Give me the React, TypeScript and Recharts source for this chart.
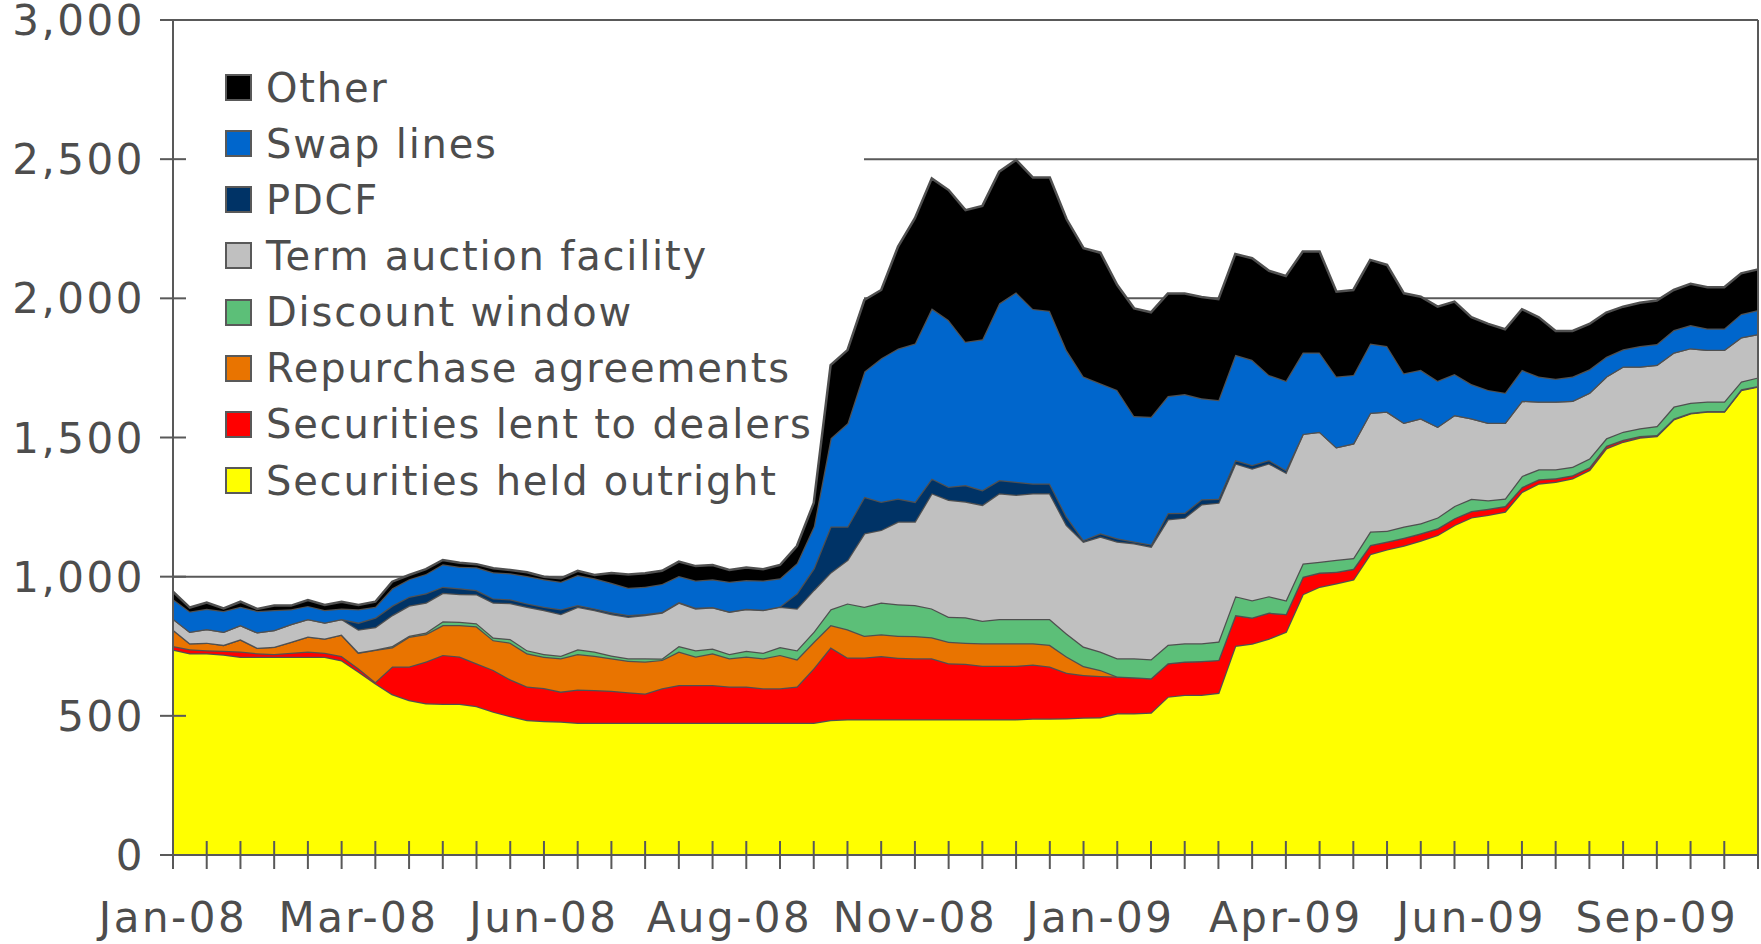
import { AreaChart, Area, XAxis, YAxis, CartesianGrid, ReferenceLine } from "recharts";

// weekly Wednesdays, Jan 2 2008 .. Oct 21 2009
const START = Date.UTC(2008, 0, 2);
const weeks: string[] = Array.from({ length: 95 }, (_, i) =>
  new Date(START + i * 7 * 86400000).toISOString().slice(0, 10)
);

const tickLabels = ["Jan-08", "Mar-08", "Jun-08", "Aug-08", "Nov-08", "Jan-09", "Apr-09", "Jun-09", "Sep-09"];
const yTicks = [0, 500, 1000, 1500, 2000, 2500, 3000];

// $bn
const outright = [
  738, 725, 725, 720, 712, 712, 712, 712, 712, 712,
  700, 659, 617, 578, 557, 545, 543, 543, 535, 515,
  499, 485, 481, 480, 475, 475, 475, 475, 475, 475,
  475, 475, 475, 475, 475, 475, 475, 475, 475, 485,
  488, 488, 488, 488, 488, 488, 488, 488, 488, 488,
  488, 490, 490, 491, 494, 495, 509, 509, 512, 569,
  576, 576, 583, 752, 760, 778, 802, 937, 964, 976,
  990, 1081, 1098, 1112, 1130, 1150, 1186, 1213, 1222, 1234,
  1305, 1335, 1341, 1353, 1383, 1461, 1485, 1500, 1505, 1565,
  1587, 1593, 1593, 1671, 1683,
];
const lent = [
  13, 14, 11, 14, 19, 13, 10, 15, 19, 15,
  15, 12, 5, 99, 120, 150, 176, 170, 154, 150,
  132, 120, 119, 107, 120, 118, 115, 110, 105, 124,
  136, 136, 136, 130, 130, 124, 124, 130, 196, 261,
  222, 222, 227, 221, 219, 219, 201, 199, 192, 192,
  192, 194, 187, 164, 153, 148, 132, 130, 123, 120,
  119, 121, 118, 110, 93, 93, 64, 63, 51, 42,
  38, 33, 28, 28, 26, 24, 24, 23, 22, 20,
  17, 15, 13, 11, 10, 9, 7, 5, 4, 3,
  2, 2, 2, 2, 2,
];
const repo = [
  59, 22, 27, 21, 44, 20, 26, 39, 54, 51,
  77, 56, 115, 69, 107, 99, 107, 113, 133, 107,
  132, 120, 112, 120, 127, 123, 117, 113, 115, 102,
  120, 102, 114, 102, 108, 108, 120, 98, 95, 80,
  101, 78, 78, 79, 80, 75, 77, 76, 81, 81,
  81, 77, 78, 58, 32, 22, 0, 0, 0, 0,
  0, 0, 0, 0, 0, 0, 0, 0, 0, 0,
  0, 0, 0, 0, 0, 0, 0, 0, 0, 0,
  0, 0, 0, 0, 0, 0, 0, 0, 0, 0,
  0, 0, 0, 0, 0,
];
const discount = [
  0, 0, 0, 0, 0, 0, 0, 0, 0, 0,
  0, 1, 1, 5, 4, 5, 14, 12, 11, 9,
  13, 11, 10, 9, 17, 15, 10, 9, 12, 5,
  20, 23, 17, 15, 21, 20, 28, 33, 36, 57,
  93, 104, 114, 113, 111, 104, 90, 91, 81, 87,
  87, 87, 93, 83, 70, 66, 66, 68, 68, 66,
  66, 64, 66, 68, 62, 59, 49, 47, 39, 43,
  39, 48, 39, 40, 36, 39, 44, 44, 31, 27,
  40, 36, 32, 31, 32, 27, 29, 28, 32, 43,
  36, 34, 34, 28, 31,
];
const taf = [
  40, 41, 49, 47, 51, 55, 60, 64, 63, 57,
  56, 82, 81, 111, 108, 108, 102, 100, 104, 126,
  129, 156, 158, 150, 153, 149, 149, 149, 155, 165,
  156, 150, 148, 152, 150, 153, 145, 150, 150, 132,
  156, 264, 261, 297, 300, 414, 420, 416, 416, 452,
  446, 452, 452, 390, 377, 413, 419, 413, 405, 451,
  451, 499, 499, 477, 474, 477, 459, 466, 467, 404,
  412, 427, 428, 373, 377, 326, 327, 289, 278, 272,
  270, 243, 243, 237, 236, 222, 234, 222, 220, 194,
  196, 186, 186, 159, 156,
];
const pdcf = [
  0, 0, 0, 0, 0, 0, 0, 0, 0, 0,
  0, 25, 34, 34, 32, 33, 22, 20, 15, 15,
  14, 12, 12, 17, 6, 6, 6, 6, 4, 2,
  2, 2, 1, 1, 1, 1, 1, 54, 78, 165,
  120, 131, 101, 83, 71, 53, 47, 59, 53, 47,
  47, 35, 35, 30, 6, 12, 12, 6, 8, 23,
  18, 18, 14, 12, 12, 12, 9, 0, 0, 0,
  0, 0, 0, 0, 0, 0, 0, 0, 0, 0,
  0, 0, 0, 0, 0, 0, 0, 0, 0, 0,
  0, 0, 0, 0, 0,
];
const swaps = [
  70, 73, 73, 75, 66, 77, 72, 53, 47, 45,
  38, 48, 39, 62, 63, 70, 81, 78, 82, 94,
  93, 98, 99, 99, 108, 108, 106, 98, 98, 101,
  93, 98, 100, 107, 103, 105, 101, 108, 150, 317,
  371, 450, 516, 539, 569, 611, 599, 515, 542, 635,
  681, 627, 620, 598, 587, 539, 533, 451, 459, 420,
  426, 363, 355, 378, 378, 306, 321, 292, 284, 254,
  246, 249, 236, 178, 174, 165, 147, 123, 118, 108,
  111, 90, 82, 87, 84, 71, 62, 74, 75, 81,
  83, 77, 77, 84, 86,
];
const other = [
  26, 14, 22, 9, 18, 7, 16, 13, 21, 18,
  24, 15, 18, 24, 15, 17, 15, 14, 11, 14,
  12, 14, 9, 12, 15, 12, 35, 48, 48, 47,
  52, 52, 51, 42, 45, 41, 48, 62, 85, 263,
  263, 257, 245, 366, 450, 467, 467, 473, 479, 473,
  475, 472, 479, 470, 461, 469, 377, 387, 375, 368,
  361, 364, 362, 362, 365, 374, 376, 363, 363, 305,
  305, 300, 291, 287, 263, 266, 260, 240, 237, 228,
  218, 213, 172, 164, 163, 159, 153, 155, 156, 144,
  148, 148, 148, 146, 146,
];

// bottom of the stack first
const series = [
  { key: "outright", name: "Securities held outright", color: "#FFFF00", values: outright },
  { key: "lent", name: "Securities lent to dealers", color: "#FF0000", values: lent },
  { key: "repo", name: "Repurchase agreements", color: "#E97400", values: repo },
  { key: "discount", name: "Discount window", color: "#5CBF78", values: discount },
  { key: "taf", name: "Term auction facility", color: "#C0C0C0", values: taf },
  { key: "pdcf", name: "PDCF", color: "#003366", values: pdcf },
  { key: "swaps", name: "Swap lines", color: "#0066CC", values: swaps },
  { key: "other", name: "Other", color: "#000000", values: other },
];

const data = weeks.map((date, i) => {
  const row: Record<string, number | string> = { date };
  series.forEach((s) => (row[s.key] = s.values[i]));
  return row;
});

const FONT = "'DejaVu Sans', Verdana, sans-serif";
const TEXT = "#4d4d4d";
const LINE = "#595959";
const LEGEND_RIGHT = 864;
const LEGEND_BOTTOM = 515;

function XTick(props: any) {
  const { x, y } = props;
  const index = props.index ?? props.payload?.index ?? 0;
  return (
    <g>
      {index % 2 === 0 && <line x1={x} x2={x} y1={y - 14} y2={y + 14} stroke={LINE} strokeWidth={2} />}
      {index % 11 === 0 && (
        <text x={x} y={y + 77} textAnchor="middle" fill={TEXT} fontSize={42} fontFamily={FONT} letterSpacing={2.5}>
          {tickLabels[index / 11]}
        </text>
      )}
    </g>
  );
}

function YTick(props: any) {
  const { x, y, payload } = props;
  return (
    <g>
      <line x1={x - 13} x2={x + 13} y1={y} y2={y} stroke={LINE} strokeWidth={2} />
      <text x={x - 28} y={y + 15} textAnchor="end" fill={TEXT} fontSize={42} fontFamily={FONT} letterSpacing={2.5}>
        {payload.value.toLocaleString("en-US")}
      </text>
    </g>
  );
}

function gridLine(p: any) {
  const hidden = p.y1 > 40 && p.y1 < LEGEND_BOTTOM;
  return (
    <line key={`g-${p.y1}`} x1={hidden ? LEGEND_RIGHT : p.x1} x2={p.x2} y1={p.y1} y2={p.y2} stroke={LINE} strokeWidth={2} />
  );
}

export default function App() {
  return (
    <div style={{ position: "absolute", left: 0, top: 0, width: 1761, height: 944, background: "#fff" }}>
      <AreaChart width={1761} height={944} data={data} margin={{ top: 20, right: 3, bottom: 9, left: 73 }}>
        <CartesianGrid vertical={false} horizontal={gridLine} />
        {series.map((s) => (
          <Area
            key={s.key}
            type="linear"
            dataKey={s.key}
            name={s.name}
            stackId="1"
            fill={s.color}
            fillOpacity={1}
            stroke="#505050"
            strokeWidth={2.5}
            dot={false}
            activeDot={false}
            isAnimationActive={false}
          />
        ))}
        <ReferenceLine x={weeks[weeks.length - 1]} stroke={LINE} strokeWidth={2} />
        <XAxis
          dataKey="date"
          interval={0}
          height={80}
          tickSize={0}
          tickMargin={0}
          tickLine={false}
          axisLine={{ stroke: LINE, strokeWidth: 2 }}
          tick={<XTick />}
        />
        <YAxis
          width={100}
          domain={[0, 3000]}
          ticks={yTicks}
          interval={0}
          tickSize={0}
          tickMargin={0}
          tickLine={false}
          axisLine={{ stroke: LINE, strokeWidth: 2 }}
          tick={<YTick />}
        />
      </AreaChart>
      <div style={{ position: "absolute", left: 225, top: 59.5, fontFamily: FONT }}>
        {[...series].reverse().map((s) => (
          <div key={s.key} style={{ display: "flex", alignItems: "center", height: 56.15 }}>
            <div
              style={{
                width: 27,
                height: 27,
                boxSizing: "border-box",
                background: s.color,
                border: `2px solid ${LINE}`,
                marginRight: 14,
              }}
            />
            <span style={{ fontSize: 40, color: TEXT, letterSpacing: 1.8, whiteSpace: "nowrap", lineHeight: 1 }}>
              {s.name}
            </span>
          </div>
        ))}
      </div>
    </div>
  );
}
